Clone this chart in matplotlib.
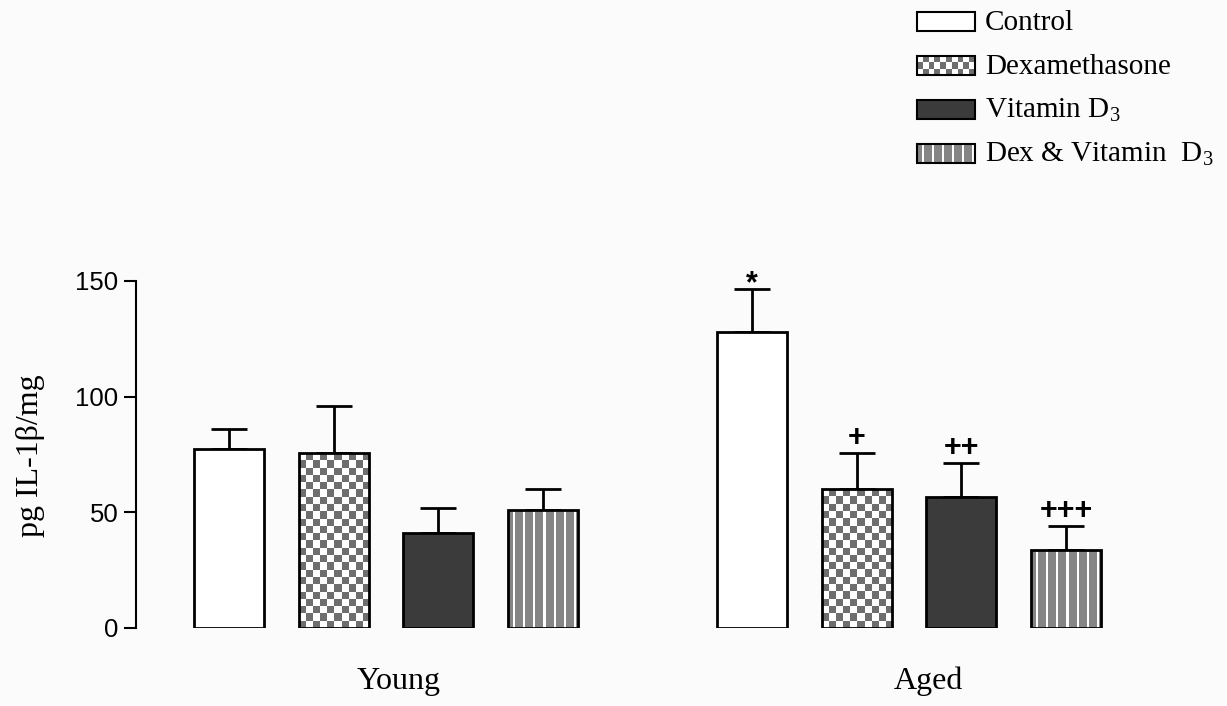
import numpy as np
import matplotlib.pyplot as plt
from matplotlib.patches import Rectangle

plt.rcParams['mathtext.fontset'] = 'custom'
plt.rcParams['mathtext.rm'] = 'Liberation Serif'
plt.rcParams['mathtext.it'] = 'Liberation Serif:italic'

# IL-1beta levels, mean and SEM per treatment
groups = ['Young', 'Aged']
treatments = ['Control', 'Dexamethasone', 'Vitamin D$_3$', 'Dex & Vitamin  D$_3$']
young_mean = [77.5, 75.5, 41.0, 51.0]
young_sem = [8.5, 20.5, 11.0, 9.0]
aged_mean = [128.0, 60.0, 56.5, 33.5]
aged_sem = [18.5, 15.5, 15.0, 10.5]
young_marks = ['', '', '', '']
aged_marks = ['*', '+', '++', '+++']

fills = ['plain', 'checker', 'dark', 'stripes']
SERIF = 'Liberation Serif'
SANS = 'Liberation Sans'


def pattern(w_px, h_px, kind, cell=7.3):
    # greyscale image used to fill a patterned box
    if kind == 'checker':
        nx = max(1, int(round(w_px / cell)))
        ny = max(1, int(round(h_px / cell)))
        yy, xx = np.mgrid[0:ny, 0:nx]
        return np.where((xx + yy) % 2 == 0, 1.0, 0.43)
    if kind == 'stripes':
        nx = max(1, int(round(w_px)))
        col = np.full(nx, 0.52)
        i = np.arange(nx)
        col[(i % 10 == 5) | (i % 10 == 6)] = 1.0
        return col[None, :]
    return None


def fill_box(axis, patch, kind, cell=7.3):
    bb = patch.get_window_extent()
    img = pattern(bb.width, bb.height, kind, cell)
    if img is None:
        return
    x0, y0 = patch.get_x(), patch.get_y()
    x1, y1 = x0 + patch.get_width(), y0 + patch.get_height()
    axis.imshow(img, cmap='gray', vmin=0, vmax=1, extent=(x0, x1, y0, y1),
                interpolation='nearest', aspect='auto', clip_path=patch, zorder=2)


def face(kind):
    return {'plain': 'white', 'dark': '#3b3b3b'}.get(kind, 'none')


fig = plt.figure(figsize=(12.27, 7.06), dpi=100, facecolor='#fbfbfb')
ax = fig.add_axes([0.1108, 0.1105, 0.798, 0.4915])
ax.set_facecolor('none')
xlim = (-0.89, 8.47)
ax.set_xlim(*xlim)
ax.set_ylim(0, 150)

n = len(treatments)
for g, (means, sems, marks) in enumerate([(young_mean, young_sem, young_marks),
                                           (aged_mean, aged_sem, aged_marks)]):
    x = np.arange(n) + g * (n + 1)
    bars = ax.bar(x, means, width=0.67, color=[face(k) for k in fills],
                  edgecolor='black', linewidth=2, zorder=3)
    for b, k in zip(bars, fills):
        fill_box(ax, b, k)
    ax.errorbar(x, means, yerr=[np.zeros(n), sems], fmt='none', ecolor='black',
                elinewidth=2, capsize=13, capthick=2, zorder=1)
    for xi, m, s, t in zip(x, means, sems, marks):
        if t:
            dy = -7 if t == '*' else 0
            ax.annotate(t, (xi, m + s), xytext=(0, dy), textcoords='offset points',
                        ha='center', va='bottom', fontsize=22, fontweight='bold',
                        family=SANS)

ax.set_xlim(*xlim)
ax.set_ylim(0, 150)

for s in ['top', 'right', 'bottom']:
    ax.spines[s].set_visible(False)
ax.spines['left'].set_linewidth(1.5)
ax.set_yticks([0, 50, 100, 150])
ax.tick_params(axis='y', direction='out', length=8.5, width=1.5, pad=4,
               labelsize=18.5)
for lab in ax.get_yticklabels():
    lab.set_family(SANS)

ax.set_xticks([1.62, 6.69])
ax.set_xticklabels(groups, family=SERIF, fontsize=23)
ax.tick_params(axis='x', length=0, pad=28)

fig.text(0.025, 0.354, 'pg IL-1\u03b2/mg', rotation=90, ha='center', va='center',
         family=SERIF, fontsize=23)

# legend box in the top right corner, units are pixels
lax = fig.add_axes([910 / 1227, 1 - 180 / 706, 317 / 1227, 180 / 706])
lax.set_xlim(0, 317)
lax.set_ylim(180, 0)
lax.axis('off')
for i, (name, k) in enumerate(zip(treatments, fills)):
    top = 12 + 44 * i
    sw = Rectangle((7, top), 58, 19, facecolor=face(k), edgecolor='black',
                   linewidth=1.5, zorder=3)
    lax.add_patch(sw)
    fill_box(lax, sw, k, cell=6)
    lax.text(75, top + 18, name, ha='left', va='baseline', family=SERIF, fontsize=21)
lax.set_xlim(0, 317)
lax.set_ylim(180, 0)

fig.savefig('out.png', dpi=100, facecolor=fig.get_facecolor())
